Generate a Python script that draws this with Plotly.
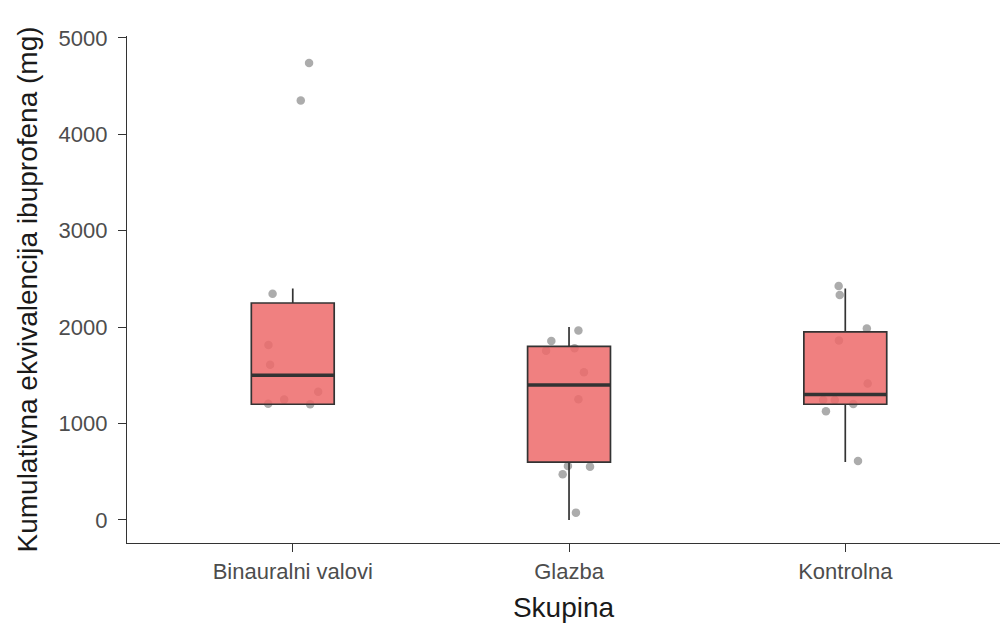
import plotly.graph_objects as go

categories = ["Binauralni valovi", "Glazba", "Kontrolna"]

# box statistics (mg)
q1 = [1200, 600, 1200]
medians = [1500, 1400, 1300]
q3 = [2250, 1800, 1950]
lower_whisker = [1200, 0, 600]
upper_whisker = [2400, 2000, 2400]

# individual observations (mg) and their horizontal jitter (category units)
binaural_values = [4740, 4350, 2345, 1815, 1610, 1330, 1250, 1205, 1200]
binaural_jitter = [0.059, 0.029, -0.073, -0.088, -0.082, 0.092, -0.031, -0.089, 0.063]
glazba_values = [1964, 1857, 1756, 1781, 1532, 1252, 560, 553, 474, 76]
glazba_jitter = [0.034, -0.064, -0.083, 0.020, 0.054, 0.034, -0.004, 0.076, -0.023, 0.025]
kontrolna_values = [2427, 2334, 1985, 1860, 1414, 1245, 1245, 1203, 1128, 612]
kontrolna_jitter = [-0.024, -0.020, 0.078, -0.023, 0.081, -0.080, -0.038, 0.029, -0.070, 0.046]

y_ticks = [0, 1000, 2000, 3000, 4000, 5000]

FONT = "Liberation Sans, Arial, sans-serif"
LINE = "#333333"
BOX_WIDTH = 0.3
X_RANGE = [-0.6, 2.56]
Y_RANGE = [-239, 5019]

fig = go.Figure()

# jittered points (drawn underneath the boxes)
groups = [binaural_values, glazba_values, kontrolna_values]
jitters = [binaural_jitter, glazba_jitter, kontrolna_jitter]
for i, (vals, jit) in enumerate(zip(groups, jitters)):
    fig.add_trace(go.Scatter(
        x=[i + j for j in jit], y=vals, mode="markers",
        marker=dict(size=8.5, color="rgba(90,90,90,0.5)", line=dict(width=0)),
        xaxis="x", yaxis="y", showlegend=False, hoverinfo="y",
    ))

# boxes on an overlaying axis pair so they sit above the points
fig.add_trace(go.Box(
    x=list(range(len(categories))), q1=q1, median=medians, q3=q3,
    lowerfence=lower_whisker, upperfence=upper_whisker,
    width=BOX_WIDTH, whiskerwidth=0, boxpoints=False,
    fillcolor="rgba(237,106,106,0.85)", line=dict(color=LINE, width=1.7),
    xaxis="x2", yaxis="y2", showlegend=False,
))

# thicker median bars
for i, m in enumerate(medians):
    fig.add_trace(go.Scatter(
        x=[i - BOX_WIDTH / 2, i + BOX_WIDTH / 2], y=[m, m], mode="lines",
        line=dict(color=LINE, width=3.5), xaxis="x2", yaxis="y2",
        showlegend=False, hoverinfo="skip",
    ))

fig.update_layout(
    width=1000, height=632,
    margin=dict(l=127, r=0, t=36, b=89),
    paper_bgcolor="white", plot_bgcolor="rgba(0,0,0,0)",
    font=dict(family=FONT, color="#4d4d4d", size=22),
    xaxis=dict(
        range=X_RANGE, tickvals=list(range(len(categories))), ticktext=categories,
        showgrid=False, zeroline=False, showline=True, linecolor=LINE, linewidth=1.3,
        ticks="outside", ticklen=8, tickcolor=LINE, tickwidth=1.3, automargin=False,
        tickfont=dict(family=FONT, size=22, color="#4d4d4d"),
        title=dict(text="Skupina", font=dict(family=FONT, size=28, color="#1a1a1a"), standoff=14),
    ),
    yaxis=dict(
        range=Y_RANGE, tickvals=y_ticks, ticktext=[str(v) for v in y_ticks],
        showgrid=False, zeroline=False, showline=True, linecolor=LINE, linewidth=1.3,
        ticks="outside", ticklen=8, tickcolor=LINE, tickwidth=1.3, automargin=False,
        ticklabelstandoff=6,
        tickfont=dict(family=FONT, size=22, color="#4d4d4d"),
        title=dict(text="Kumulativna ekvivalencija ibuprofena (mg)",
                   font=dict(family=FONT, size=28, color="#1a1a1a"), standoff=12),
    ),
    xaxis2=dict(range=X_RANGE, overlaying="x", visible=False, showgrid=False,
                zeroline=False, automargin=False),
    yaxis2=dict(range=Y_RANGE, overlaying="y", visible=False, showgrid=False,
                zeroline=False, automargin=False),
)

fig.write_html("out.html", config={"displayModeBar": False},
               post_script="document.body.style.margin='0';")
